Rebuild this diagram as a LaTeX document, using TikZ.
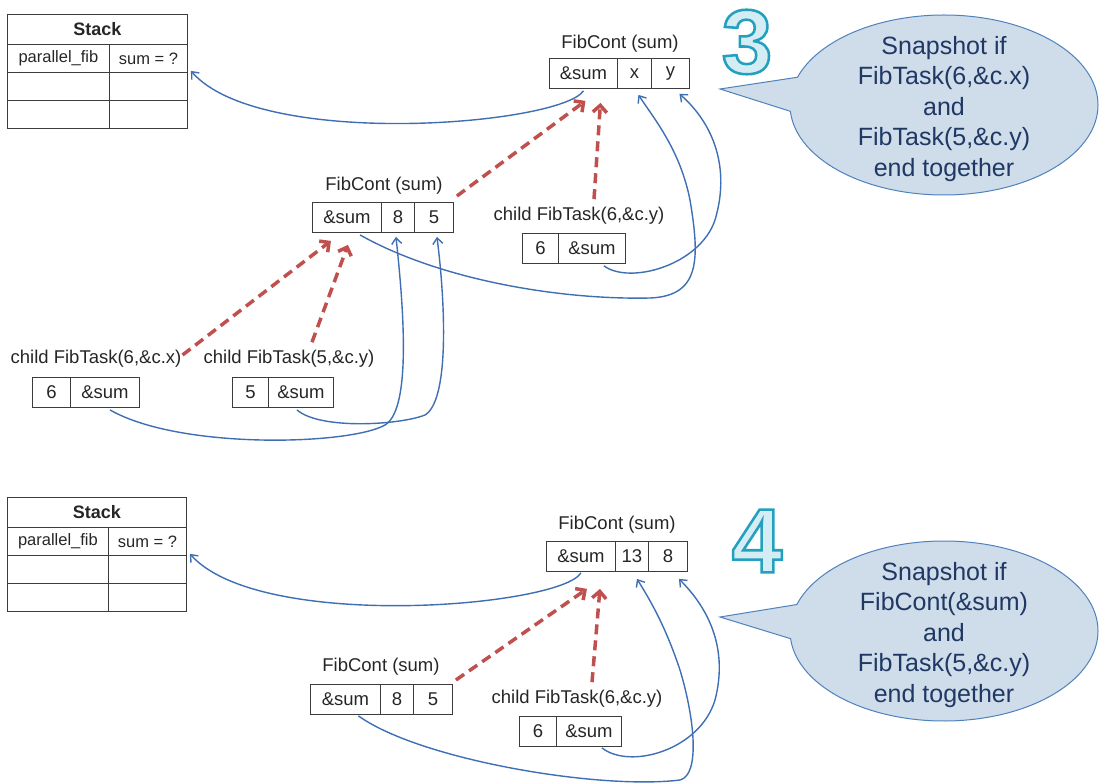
\documentclass[tikz,border=0pt]{standalone}
\usepackage{fontspec}
\setmainfont{Liberation Sans}
\newfontfamily\stepfont[FakeBold=2.8]{Liberation Sans}
\usetikzlibrary{arrows.meta,shapes.callouts,calc}

\definecolor{linkblue}{RGB}{62,110,180}
\definecolor{parentred}{RGB}{192,80,77}
\definecolor{bubblefill}{RGB}{207,220,233}
\definecolor{bubbleedge}{RGB}{79,129,189}
\definecolor{bubbletext}{RGB}{31,56,100}
\definecolor{steppale}{RGB}{212,236,243}
\definecolor{boxline}{RGB}{60,60,60}
% stroke colour of the outlined step numbers (RGB 35,160,190)
\newcommand{\stepoutline}{\special{pdf:literal direct 0.137 0.627 0.745 RG}}

\begin{document}
\begin{tikzpicture}[x=1pt, y=-1pt,
    every node/.style={text=black!85},
    cell/.style={draw=boxline, line width=0.9, anchor=north west, minimum height=30, inner sep=0, font=\fontsize{18.5}{22}\selectfont},
    boxname/.style={inner sep=0, font=\fontsize{18.5}{22}\selectfont},
    stackcell/.style={draw=boxline, line width=0.9, anchor=north west, minimum height=28, inner sep=0, font=\fontsize{16.5}{20}\selectfont},
    stackhead/.style={stackcell, minimum height=30, font=\fontsize{18}{22}\selectfont\bfseries},
    bubble/.style={ellipse callout, callout pointer arc=22, draw=bubbleedge, line width=1, fill=bubblefill, text=bubbletext, align=center, minimum width=308, minimum height=180, inner xsep=0, inner ysep=-14, font=\fontsize{25}{30.5}\selectfont},
    stepnum/.style={inner sep=0, text=steppale, font=\fontsize{91}{91}\stepfont\bfseries},
    ptr/.style={linkblue, line width=1.4, -{Straight Barb[length=6,width=10]}},
    parentlink/.style={parentred, line width=3.5, dash pattern=on 10 off 6, -{Straight Barb[length=7,width=14]}}
  ]

    \useasboundingbox (0,0) rectangle (1103,783);

    % Snapshot 3: the stack frame
    \node[stackhead, minimum width=180] (s3head) at (7,14) {Stack};
    \node[stackcell, minimum width=102] (s3fn) at (7,44) {parallel\_fib};
    \node[stackcell, minimum width=78] (s3sum) at (109,44) {sum = ?};
    \node[stackcell, minimum width=102] (s3r2a) at (7,72) {};
    \node[stackcell, minimum width=78] (s3r2b) at (109,72) {};
    \node[stackcell, minimum width=102] (s3r3a) at (7,100) {};
    \node[stackcell, minimum width=78] (s3r3b) at (109,100) {};

    % Snapshot 3: continuations and child tasks
    \node[boxname] (t3name) at (620,44) {FibCont (sum)};
    \node[cell, minimum width=68] (t3sum) at (549,58) {\&sum};
    \node[cell, minimum width=34] (t3x) at (617,58) {x};
    \node[cell, minimum width=38] (t3y) at (651,58) {y};

    \node[boxname] (m3name) at (384,186) {FibCont (sum)};
    \node[cell, minimum width=69] (m3sum) at (312,202) {\&sum};
    \node[cell, minimum width=33] (m3x) at (381,202) {8};
    \node[cell, minimum width=39] (m3y) at (414,202) {5};

    \node[boxname] (k3name) at (579,216) {child FibTask(6,\&c.y)};
    \node[cell, minimum width=36] (k3n) at (522,233) {6};
    \node[cell, minimum width=67] (k3sum) at (558,233) {\&sum};

    \node[boxname] (a3name) at (96,359) {child FibTask(6,\&c.x)};
    \node[cell, minimum width=38] (a3n) at (32,377) {6};
    \node[cell, minimum width=69] (a3sum) at (70,377) {\&sum};

    \node[boxname] (b3name) at (289,359) {child FibTask(5,\&c.y)};
    \node[cell, minimum width=36] (b3n) at (232,377) {5};
    \node[cell, minimum width=65] (b3sum) at (268,377) {\&sum};

    \node[stepnum] (step3) at (747,42) {\stepoutline 3};
    \node[bubble, callout absolute pointer={(720,89)}] (say3) at (944,105) {\rule{0pt}{26pt}Snapshot if\\FibTask(6,\&c.x)\\and\\FibTask(5,\&c.y)\\end together};

    % Snapshot 3: pointers
    \draw[ptr] ($(t3sum.south)+(0,2)$) .. controls (560,125) and (260,150) .. ($(s3sum.south east)+(3,-2)$);
    \draw[parentlink] ($(m3y.north east)+(3,-6)$) -- ($(t3sum.south)+(2,12)$);
    \draw[parentlink] ($(k3name.north)+(15,-8)$) -- ($(t3sum.south)+(17,14)$);
    \draw[parentlink] ($(a3name.east)+(1,-4)$) -- ($(m3sum.south)+(-16,8)$);
    \draw[parentlink] ($(b3name.north)+(23,-8)$) -- ($(m3sum.south)+(1,12)$);
    \draw[ptr] ($(m3sum.south)+(13,2)$) .. controls (440,280) and (560,300) .. (650,298) .. controls (700,296) and (700,260) .. (690,200) .. controls (680,150) and (655,120) .. ($(t3x.south)+(4,6)$);
    \draw[ptr] ($(k3sum.south)+(12,2)$) .. controls (630,285) and (700,265) .. (715,220) .. controls (730,170) and (715,125) .. ($(t3y.south)+(9,5)$);
    \draw[ptr] ($(a3sum.south)+(5,2)$) .. controls (180,450) and (350,445) .. (385,425) .. controls (410,410) and (405,320) .. ($(m3x.south)+(-2,4)$);
    \draw[ptr] ($(b3sum.south)+(-4,2)$) .. controls (320,430) and (400,425) .. (425,415) .. controls (450,400) and (445,300) .. ($(m3y.south)+(3,4)$);

    % Snapshot 4: the stack frame
    \node[stackhead, minimum width=179] (s4head) at (7,497) {Stack};
    \node[stackcell, minimum width=101] (s4fn) at (7,527) {parallel\_fib};
    \node[stackcell, minimum width=78] (s4sum) at (108,527) {sum = ?};
    \node[stackcell, minimum width=101] (s4r2a) at (7,555) {};
    \node[stackcell, minimum width=78] (s4r2b) at (108,555) {};
    \node[stackcell, minimum width=101] (s4r3a) at (7,583) {};
    \node[stackcell, minimum width=78] (s4r3b) at (108,583) {};

    % Snapshot 4: continuations and child task
    \node[boxname] (t4name) at (617,525) {FibCont (sum)};
    \node[cell, minimum width=69] (t4sum) at (546,541) {\&sum};
    \node[cell, minimum width=33] (t4x) at (615,541) {13};
    \node[cell, minimum width=39] (t4y) at (648,541) {8};

    \node[boxname] (m4name) at (381,667) {FibCont (sum)};
    \node[cell, minimum width=70] (m4sum) at (310,684) {\&sum};
    \node[cell, minimum width=33] (m4x) at (380,684) {8};
    \node[cell, minimum width=39] (m4y) at (413,684) {5};

    \node[boxname] (k4name) at (577,699) {child FibTask(6,\&c.y)};
    \node[cell, minimum width=37] (k4n) at (519,716) {6};
    \node[cell, minimum width=65] (k4sum) at (556,716) {\&sum};

    \node[stepnum] (step4) at (757,541) {\stepoutline 4};
    \node[bubble, callout absolute pointer={(720,617)}] (say4) at (944,631) {\rule{0pt}{26pt}Snapshot if\\FibCont(\&sum)\\and\\FibTask(5,\&c.y)\\end together};

    % Snapshot 4: pointers
    \draw[ptr] ($(t4sum.south)+(0,1)$) .. controls (560,607) and (260,632) .. ($(s4sum.south east)+(3,-2)$);
    \draw[parentlink] ($(m4y.north east)+(3,-4)$) -- ($(t4sum.south)+(6,17)$);
    \draw[parentlink] ($(k4name.north)+(15,-8)$) -- ($(t4sum.south)+(19,17)$);
    \draw[ptr] ($(m4sum.south)+(13,1)$) .. controls (420,760) and (600,790) .. (680,780) .. controls (700,775) and (695,720) .. (680,670) .. controls (665,625) and (650,600) .. ($(t4x.south)+(5,7)$);
    \draw[ptr] ($(k4sum.south)+(13,1)$) .. controls (630,770) and (700,750) .. (715,700) .. controls (728,650) and (710,610) .. ($(t4y.south)+(11,7)$);

\end{tikzpicture}
\end{document}
